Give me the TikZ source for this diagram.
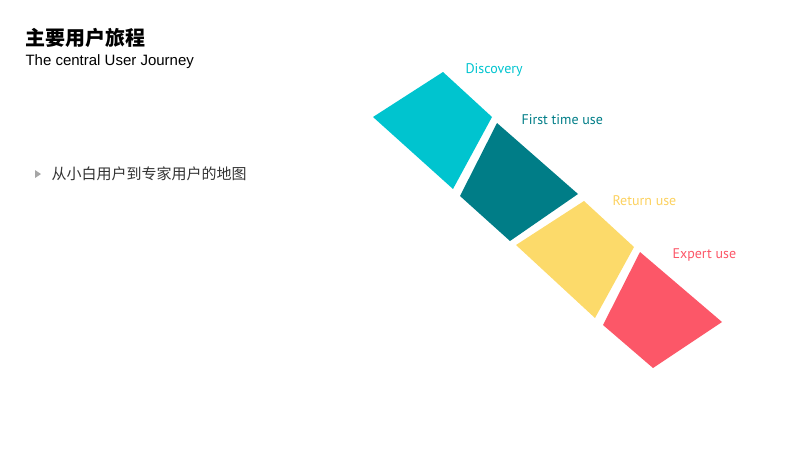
\documentclass[tikz,border=0pt]{standalone}
\usepackage{fontspec}
\setmainfont{Liberation Sans}
\newfontfamily\cjk{Noto Sans CJK SC}
\newfontfamily\lab{PT Sans}
\definecolor{cyanc}{HTML}{00C4CF}
\definecolor{tealc}{HTML}{007D87}
\definecolor{yelc}{HTML}{FCDA6A}
\definecolor{redc}{HTML}{FC5768}
\begin{document}
\begin{tikzpicture}[x=1pt,y=-1pt,
  lbl/.style={anchor=west,font=\lab\fontsize{14}{14}\selectfont}]
\useasboundingbox (0,0) rectangle (800,450);
\fill[cyanc] (373,117) -- (443,72) -- (492,117) -- (453,189) -- cycle;
\fill[tealc] (460,196) -- (497,123) -- (578,194) -- (510,241) -- cycle;
\fill[yelc] (516,245) -- (584,201) -- (634,247) -- (595,318) -- cycle;
\fill[redc] (603,325) -- (640,252) -- (722,322) -- (653,368) -- cycle;
\node[lbl,text=cyanc] (d) at (462,70) {Discovery};
\node[lbl,text=tealc] (f) at (518,120) {First time use};
\node[lbl,text=yelc!90!orange] (r) at (609,201) {Return use};
\node[lbl,text=redc] (e) at (669,255) {Expert use};
\node[anchor=west,font=\cjk\bfseries\fontsize{20}{20}\selectfont] (t) at (22,38) {主要用户旅程};
\node[anchor=west,font=\fontsize{15}{15}\selectfont] (s) at (22,62) {The central User Journey};
\fill[gray!70] (35,170) -- (41,174) -- (35,178) -- cycle;
\node[anchor=west,font=\cjk\fontsize{15}{15}\selectfont,text=black!80] (b) at (48,174) {从小白用户到专家用户的地图};
\end{tikzpicture}
\end{document}
